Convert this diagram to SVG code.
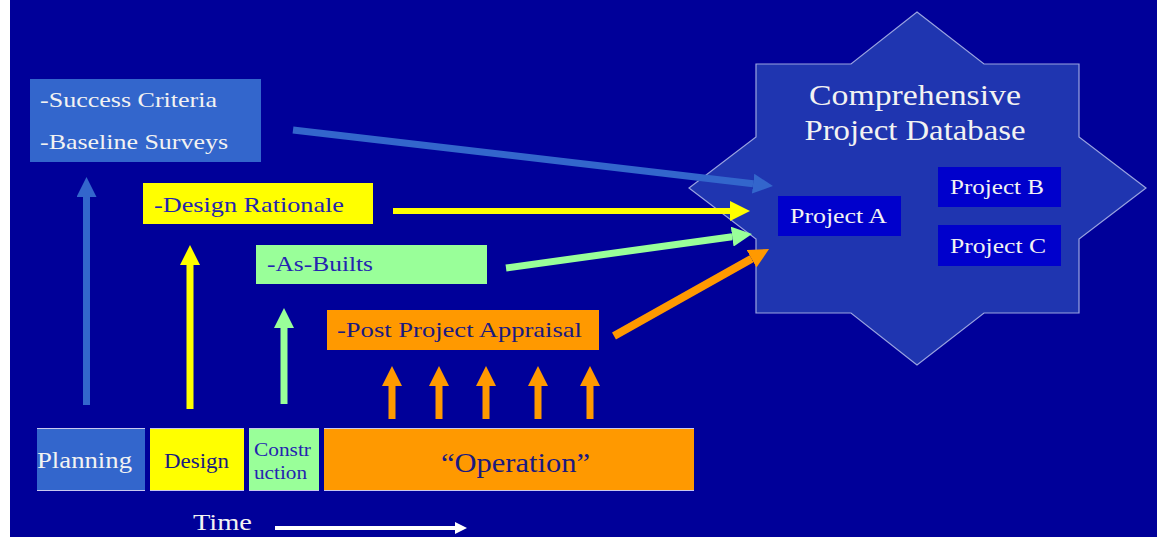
<svg xmlns="http://www.w3.org/2000/svg" width="1157" height="537" viewBox="0 0 1157 537">
  <style>
    .serif { font-family: "Liberation Serif", "Times New Roman", serif; }
    .lbl { font-size: 21px; }
    .white { fill: #F2F2F2; }
    .navy { fill: #2424B0; }
    .dark { fill: #1A1A80; }
    .edge { stroke: #C8C8F0; stroke-width: 1.2; }
  </style>
  <defs>
    <marker id="head-blue" markerUnits="userSpaceOnUse" markerWidth="20" markerHeight="20" viewBox="0 0 20 20" refX="0" refY="10" orient="auto">
      <path d="M0,0 L20,10 L0,20 Z" fill="#3366CC"/>
    </marker>
    <marker id="head-yellow" markerUnits="userSpaceOnUse" markerWidth="20" markerHeight="20" viewBox="0 0 20 20" refX="0" refY="10" orient="auto">
      <path d="M0,0 L20,10 L0,20 Z" fill="#FFFF00"/>
    </marker>
    <marker id="head-green" markerUnits="userSpaceOnUse" markerWidth="20" markerHeight="20" viewBox="0 0 20 20" refX="0" refY="10" orient="auto">
      <path d="M0,0 L20,10 L0,20 Z" fill="#99FF99"/>
    </marker>
    <marker id="head-orange" markerUnits="userSpaceOnUse" markerWidth="20" markerHeight="20" viewBox="0 0 20 20" refX="0" refY="10" orient="auto">
      <path d="M0,0 L20,10 L0,20 Z" fill="#FF9900"/>
    </marker>
    <marker id="head-white" markerUnits="userSpaceOnUse" markerWidth="12" markerHeight="12" viewBox="0 0 12 12" refX="0" refY="6" orient="auto">
      <path d="M0,0 L12,6 L0,12 Z" fill="#FFFFFF"/>
    </marker>
  </defs>

  <!-- page background -->
  <rect x="0" y="0" width="1157" height="537" fill="#FFFFFF"/>
  <rect x="10" y="0" width="1147" height="537" fill="#000099"/>

  <!-- central database -->
  <g id="database">
    <polygon points="917,12 984,64 1079,64 1079,137 1146,188 1079,239 1079,313 984,313 917,365 851,313 756,313 756,239 689,188 756,137 756,64 851,64" fill="#1F35B0" stroke="#9AA4E0" stroke-width="1.2"/>
    <text class="serif white" x="915" y="105" font-size="30" text-anchor="middle" textLength="212" lengthAdjust="spacingAndGlyphs">Comprehensive</text>
    <text class="serif white" x="915" y="140" font-size="30" text-anchor="middle" textLength="221" lengthAdjust="spacingAndGlyphs">Project Database</text>
  </g>
  <g id="project-a">
    <rect x="778" y="196" width="123" height="40" fill="#0000CC"/>
    <text class="serif white lbl" x="790" y="223" textLength="97" lengthAdjust="spacingAndGlyphs">Project A</text>
  </g>
  <g id="project-b">
    <rect x="938" y="167" width="123" height="40" fill="#0000CC"/>
    <text class="serif white lbl" x="950" y="194" textLength="94" lengthAdjust="spacingAndGlyphs">Project B</text>
  </g>
  <g id="project-c">
    <rect x="938" y="225" width="123" height="41" fill="#0000CC"/>
    <text class="serif white lbl" x="950" y="253" textLength="96" lengthAdjust="spacingAndGlyphs">Project C</text>
  </g>

  <!-- information products -->
  <g id="success-criteria">
    <rect x="30" y="79" width="231" height="83" fill="#3366CC"/>
    <text class="serif white lbl" x="40" y="107" textLength="177" lengthAdjust="spacingAndGlyphs">-Success Criteria</text>
    <text class="serif white lbl" x="40" y="149" textLength="188" lengthAdjust="spacingAndGlyphs">-Baseline Surveys</text>
  </g>
  <g id="design-rationale">
    <rect x="143" y="183" width="230" height="41" fill="#FFFF00"/>
    <text class="serif navy lbl" x="154" y="212" textLength="190" lengthAdjust="spacingAndGlyphs">-Design Rationale</text>
  </g>
  <g id="as-builts">
    <rect x="256" y="245" width="231" height="39" fill="#99FF99"/>
    <text class="serif navy lbl" x="267" y="271" textLength="106" lengthAdjust="spacingAndGlyphs">-As-Builts</text>
  </g>
  <g id="post-project-appraisal">
    <rect x="327" y="310" width="272" height="40" fill="#FF9900"/>
    <text class="serif dark lbl" x="337" y="337" textLength="245" lengthAdjust="spacingAndGlyphs">-Post Project Appraisal</text>
  </g>

  <!-- project phases along the time line -->
  <g id="phase-planning">
    <rect x="37" y="428" width="108" height="63" fill="#3366CC"/>
    <line class="edge" x1="37" y1="428.5" x2="145" y2="428.5"/>
    <line class="edge" x1="37" y1="490.5" x2="145" y2="490.5"/>
    <text class="serif white" x="37" y="468" font-size="24" textLength="95" lengthAdjust="spacingAndGlyphs">Planning</text>
  </g>
  <g id="phase-design">
    <rect x="150" y="428" width="94" height="63" fill="#FFFF00"/>
    <line class="edge" x1="150" y1="428.5" x2="244" y2="428.5"/>
    <line class="edge" x1="150" y1="490.5" x2="244" y2="490.5"/>
    <text class="serif dark" x="164" y="468" font-size="20" textLength="65" lengthAdjust="spacingAndGlyphs">Design</text>
  </g>
  <g id="phase-construction">
    <rect x="249" y="428" width="70" height="63" fill="#99FF99"/>
    <line class="edge" x1="249" y1="428.5" x2="319" y2="428.5"/>
    <line class="edge" x1="249" y1="490.5" x2="319" y2="490.5"/>
    <text class="serif navy" x="254" y="456" font-size="18" textLength="57" lengthAdjust="spacingAndGlyphs">Constr</text>
    <text class="serif navy" x="254" y="479" font-size="18" textLength="53" lengthAdjust="spacingAndGlyphs">uction</text>
  </g>
  <g id="phase-operation">
    <rect x="324" y="428" width="370" height="63" fill="#FF9900"/>
    <line class="edge" x1="324" y1="428.5" x2="694" y2="428.5"/>
    <line class="edge" x1="324" y1="490.5" x2="694" y2="490.5"/>
    <text class="serif dark" x="441" y="472" font-size="27" textLength="149" lengthAdjust="spacingAndGlyphs">“Operation”</text>
  </g>
  <g id="time-axis">
    <text class="serif white" x="193" y="530" font-size="24" textLength="59" lengthAdjust="spacingAndGlyphs">Time</text>
    <line x1="275" y1="528" x2="455" y2="528" stroke="#FFFFFF" stroke-width="4" marker-end="url(#head-white)"/>
  </g>

  <!-- connectors -->
  <g id="connectors" fill="none" stroke-linecap="butt">
    <!-- phases feeding their products -->
    <line x1="86.5" y1="405" x2="86.5" y2="197" stroke="#3366CC" stroke-width="7" marker-end="url(#head-blue)"/>
    <line x1="190" y1="409" x2="190" y2="265" stroke="#FFFF00" stroke-width="7" marker-end="url(#head-yellow)"/>
    <line x1="284" y1="404" x2="284" y2="328" stroke="#99FF99" stroke-width="7" marker-end="url(#head-green)"/>
    <line x1="392" y1="419" x2="392" y2="386" stroke="#FF9900" stroke-width="7" marker-end="url(#head-orange)"/>
    <line x1="439" y1="419" x2="439" y2="386" stroke="#FF9900" stroke-width="7" marker-end="url(#head-orange)"/>
    <line x1="486" y1="419" x2="486" y2="386" stroke="#FF9900" stroke-width="7" marker-end="url(#head-orange)"/>
    <line x1="538" y1="419" x2="538" y2="386" stroke="#FF9900" stroke-width="7" marker-end="url(#head-orange)"/>
    <line x1="590" y1="419" x2="590" y2="386" stroke="#FF9900" stroke-width="7" marker-end="url(#head-orange)"/>
    <!-- products flowing into the database -->
    <line x1="293" y1="130" x2="753.1" y2="183.7" stroke="#3366CC" stroke-width="7" marker-end="url(#head-blue)"/>
    <line x1="393" y1="211" x2="730" y2="211" stroke="#FFFF00" stroke-width="6" marker-end="url(#head-yellow)"/>
    <line x1="506" y1="268" x2="732.2" y2="236.7" stroke="#99FF99" stroke-width="7" marker-end="url(#head-green)"/>
    <line x1="614" y1="336" x2="751.6" y2="258.8" stroke="#FF9900" stroke-width="8" marker-end="url(#head-orange)"/>
  </g>
</svg>
